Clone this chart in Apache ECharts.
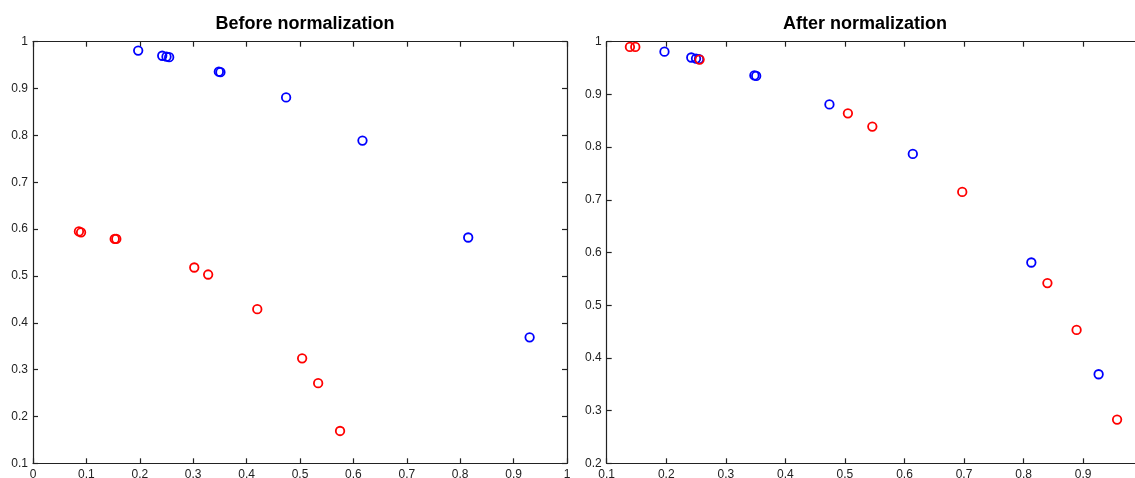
<!DOCTYPE html>
<html>
<head>
<meta charset="utf-8">
<script src="https://cdn.jsdelivr.net/npm/echarts@6/dist/echarts.min.js"></script>
<style>
html,body{margin:0;padding:0;background:#fff;}
#chart{width:1135px;height:478px;}
</style>
</head>
<body>
<div id="chart"></div>
<script>
// ---- data ----
const titles = ["Before normalization", "After normalization"];
const blueBefore = [[0.197,0.981],[0.242,0.970],[0.250,0.968],[0.255,0.967],[0.348,0.936],[0.351,0.935],[0.474,0.881],[0.617,0.789],[0.815,0.582],[0.930,0.369]];
const redBefore = [[0.086,0.595],[0.090,0.593],[0.153,0.579],[0.156,0.579],[0.302,0.518],[0.328,0.503],[0.420,0.429],[0.504,0.324],[0.534,0.271],[0.575,0.169]];
const blueAfter = [[0.197,0.981],[0.242,0.970],[0.250,0.968],[0.255,0.967],[0.348,0.936],[0.351,0.935],[0.474,0.881],[0.614,0.787],[0.813,0.581],[0.926,0.369]];
const redAfter = [[0.139,0.990],[0.148,0.990],[0.256,0.966],[0.505,0.864],[0.546,0.839],[0.697,0.715],[0.840,0.542],[0.889,0.453],[0.957,0.283]];
const xRangeBefore = [0, 1];
const yRangeBefore = [0.1, 1];
const xRangeAfter = [0.1, 1];
const yRangeAfter = [0.2, 1];
const tickStep = 0.1;

// ---- styling ----
const axisColor = '#222222';
const font = 'Liberation Sans, Arial, Helvetica, sans-serif';
function fmt(v){ return String(Math.round(v*10)/10); }
function axisBase(show){
  return {
    axisLine:{show:true,onZero:false,lineStyle:{color:axisColor,width:1.2}},
    axisTick:{show:true,inside:true,length:5,lineStyle:{color:axisColor,width:1.2}},
    axisLabel:{show:show,color:axisColor,fontSize:12,fontFamily:font,formatter:fmt,margin:5},
    splitLine:{show:false},
    interval:tickStep
  };
}
const grids = [
  {left:33, width:534, top:41.7, height:421.6, containLabel:false, outerBoundsMode:'none'},
  {left:606.7, width:536, top:41.7, height:421.6, containLabel:false, outerBoundsMode:'none'}
];
const xAxes = [], yAxes = [];
[[xRangeBefore,yRangeBefore],[xRangeAfter,yRangeAfter]].forEach((r,i)=>{
  xAxes.push(Object.assign({type:'value',gridIndex:i,position:'bottom',min:r[0][0],max:r[0][1]},axisBase(true)));
  xAxes.push(Object.assign({type:'value',gridIndex:i,position:'top',min:r[0][0],max:r[0][1]},axisBase(false)));
  yAxes.push(Object.assign({type:'value',gridIndex:i,position:'left',min:r[1][0],max:r[1][1]},axisBase(true)));
  yAxes.push(Object.assign({type:'value',gridIndex:i,position:'right',min:r[1][0],max:r[1][1]},axisBase(false)));
});
function sc(data, color, gi){
  return {
    type:'scatter', xAxisIndex:gi*2, yAxisIndex:gi*2, data:data,
    symbol:'circle', symbolSize:8.5,
    itemStyle:{color:'rgba(255,255,255,0)',borderColor:color,borderWidth:1.8,opacity:1},
    emphasis:{disabled:true}, silent:true, animation:false, clip:false
  };
}
const chart = echarts.init(document.getElementById('chart'), null, {renderer:'canvas'});
chart.setOption({
  animation:false,
  backgroundColor:'#fff',
  title:[
    {text:titles[0], left:300, top:10, textAlign:'center', textStyle:{fontSize:18,fontWeight:'bold',color:'#000',fontFamily:font}},
    {text:titles[1], left:860, top:10, textAlign:'center', textStyle:{fontSize:18,fontWeight:'bold',color:'#000',fontFamily:font}}
  ],
  grid:grids,
  xAxis:xAxes,
  yAxis:yAxes,
  series:[
    sc(blueBefore,'#0000ff',0), sc(redBefore,'#ff0000',0),
    sc(blueAfter,'#0000ff',1), sc(redAfter,'#ff0000',1)
  ]
});
</script>
</body>
</html>
